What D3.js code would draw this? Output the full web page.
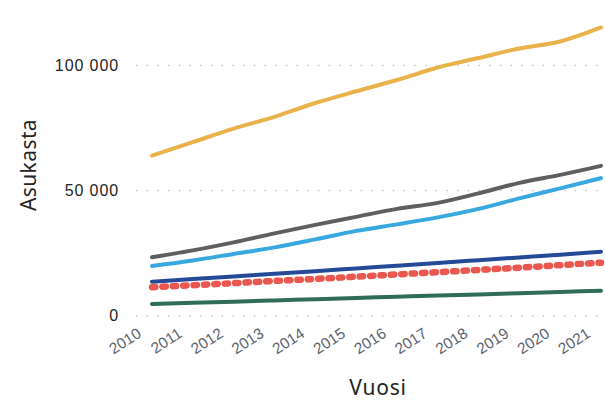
<!DOCTYPE html>
<html>
<head>
<meta charset="utf-8">
<script src="https://cdn.jsdelivr.net/npm/d3@7"></script>
<style>
  body { margin: 0; background: #fff; }
  svg { display: block; font-family: "Noto Sans", "Open Sans", sans-serif; }
</style>
</head>
<body>
<div id="chart"></div>
<script>
// years on the x axis
var years = [2010, 2011, 2012, 2013, 2014, 2015, 2016, 2017, 2018, 2019, 2020, 2021];
var yTicks = [0, 50000, 100000];

// series values (residents)
var seriesGold  = [64000, 69400, 74800, 79500, 85000, 89700, 94200, 99200, 103000, 106800, 109600, 115200];
var seriesGray  = [23400, 26100, 29300, 32900, 36300, 39500, 42700, 45100, 48900, 53100, 56300, 59900];
var seriesLight = [19900, 22100, 24700, 27300, 30500, 33900, 36500, 39300, 42700, 46900, 50900, 55000];
var seriesNavy  = [13600, 14700, 15700, 16800, 17800, 18900, 20000, 21100, 22200, 23300, 24400, 25600];
var seriesRed   = [11400, 12200, 13000, 13900, 14700, 15600, 16500, 17400, 18300, 19200, 20200, 21200];
var seriesGreen = [4700, 5200, 5600, 6100, 6600, 7100, 7600, 8100, 8500, 9000, 9500, 10000];

var series = [
  { values: seriesGold,  color: "#e9b24b" },
  { values: seriesGray,  color: "#5f5f5f" },
  { values: seriesLight, color: "#38a8df" },
  { values: seriesNavy,  color: "#244a98" },
  { values: seriesRed,   color: "#e9574f", dotted: true },
  { values: seriesGreen, color: "#2f6c59" }
];

var width = 605, height = 400;
var svg = d3.select("#chart").append("svg")
  .attr("width", width)
  .attr("height", height);

var x = d3.scaleLinear().domain([2010, 2021]).range([152, 601]);
var y = d3.scaleLinear().domain([0, 100000]).range([315.7, 65.5]);

var fmt = function(d) { return d3.format(",")(d).replace(/,/g, " "); };

// gridlines + y labels
var yAxis = d3.axisLeft(y).tickValues(yTicks).tickFormat(fmt).tickSize(0).tickPadding(0);
var gy = svg.append("g").attr("transform", "translate(119,0)").call(yAxis);
gy.select(".domain").remove();
gy.selectAll("text")
  .attr("fill", "#252423")
  .style("font-size", "16px")
  .style("letter-spacing", "0.9px");

svg.append("g").selectAll("line")
  .data(yTicks)
  .enter()
  .append("line")
  .attr("x1", 136)
  .attr("x2", width)
  .attr("y1", function(d) { return y(d); })
  .attr("y2", function(d) { return y(d); })
  .attr("stroke", "#c8c8c8")
  .attr("stroke-width", 1.5)
  .attr("stroke-dasharray", "1.5 9.2");

// x labels
var xAxis = d3.axisBottom(x).tickValues(years).tickFormat(d3.format("d")).tickSize(0).tickPadding(0);
var gx = svg.append("g").attr("transform", "translate(0,316)").call(xAxis);
gx.select(".domain").remove();
gx.selectAll("text")
  .attr("fill", "#5e6470")
  .style("font-size", "15.5px")
  .style("text-anchor", "end")
  .attr("dy", "0")
  .attr("transform", "translate(-10,20) rotate(-33)");

// lines
var line = d3.line()
  .x(function(d, i) { return x(years[i]); })
  .y(function(d) { return y(d); })
  .curve(d3.curveMonotoneX);

svg.append("g").selectAll("path")
  .data(series)
  .enter()
  .append("path")
  .attr("d", function(d) { return line(d.values); })
  .attr("fill", "none")
  .attr("stroke", function(d) { return d.color; })
  .attr("stroke-width", function(d) { return d.dotted ? 6.5 : 4; })
  .attr("stroke-linecap", "round")
  .attr("stroke-linejoin", "round")
  .attr("stroke-dasharray", function(d) { return d.dotted ? "3.4 7" : null; });

// axis titles
svg.append("text")
  .attr("transform", "translate(36,165) rotate(-90)")
  .style("text-anchor", "middle")
  .style("font-size", "21px")
  .style("letter-spacing", "0.4px")
  .attr("fill", "#252423")
  .text("Asukasta");

svg.append("text")
  .attr("x", 378)
  .attr("y", 395)
  .style("text-anchor", "middle")
  .style("font-size", "21px")
  .style("letter-spacing", "0.8px")
  .attr("fill", "#252423")
  .text("Vuosi");
</script>
</body>
</html>
